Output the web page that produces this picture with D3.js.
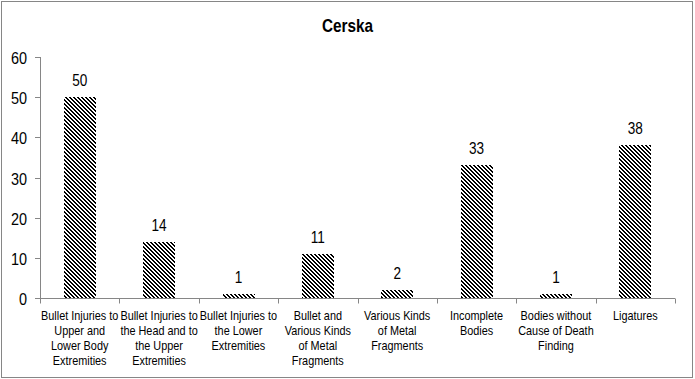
<!DOCTYPE html>
<html>
<head>
<meta charset="utf-8">
<script src="https://cdn.jsdelivr.net/npm/d3@7"></script>
<style>
  html, body { margin: 0; padding: 0; background: #fff; }
  svg { display: block; }
  text { font-family: "Liberation Sans", Arial, sans-serif; fill: #000; }
</style>
</head>
<body>
<svg id="chart" width="695" height="379"></svg>
<script>
const title = "Cerska";
const categories = [
  "Bullet Injuries to\nUpper and\nLower Body\nExtremities",
  "Bullet Injuries to\nthe Head and to\nthe Upper\nExtremities",
  "Bullet Injuries to\nthe Lower\nExtremities",
  "Bullet and\nVarious Kinds\nof Metal\nFragments",
  "Various Kinds\nof Metal\nFragments",
  "Incomplete\nBodies",
  "Bodies without\nCause of Death\nFinding",
  "Ligatures"
];
const values = [50, 14, 1, 11, 2, 33, 1, 38];
const yTicks = [0, 10, 20, 30, 40, 50, 60];

const W = 695, H = 379;
const m = { left: 40, right: 20, top: 57, bottom: 81 };
const svg = d3.select("#chart");
const SX = 0.85; // horizontal condensing of glyphs

function ctext(g, x, y, str, size, anchor, weight) {
  return g.append("text")
    .attr("transform", `translate(${x},${y}) scale(${SX},1)`)
    .attr("text-anchor", anchor)
    .style("font-size", size + "px")
    .style("font-weight", weight || "normal")
    .text(str);
}

// outer border
svg.append("rect").attr("x", 1.5).attr("y", 1.5).attr("width", 691).attr("height", 376)
  .attr("fill", "#fff").attr("stroke", "#868686").attr("stroke-width", 1);

// hatch pattern: crisp pixel diagonal "\" stripes, 2px black / 2px white
const defs = svg.append("defs");
const pat = defs.append("pattern").attr("id", "hatch")
  .attr("patternUnits", "userSpaceOnUse").attr("width", 4).attr("height", 4);
pat.append("rect").attr("width", 4).attr("height", 4).attr("fill", "#fff");
for (let r = 0; r < 4; r++) {
  for (let k = 0; k < 2; k++) {
    pat.append("rect").attr("x", (r + k) % 4).attr("y", r)
      .attr("width", 1).attr("height", 1).attr("fill", "#000")
      .attr("shape-rendering", "crispEdges");
  }
}

const x = d3.scaleBand().domain(d3.range(categories.length))
  .range([m.left, W - m.right]).paddingInner(0.6).paddingOuter(0.3);
const xEdge = d3.scaleLinear().domain([0, categories.length]).range([m.left, W - m.right]);
const y = d3.scaleLinear().domain([0, 60]).range([H - m.bottom, m.top]);

// title
ctext(svg, W / 2, 32, title, 18, "middle", "bold");

// y axis
const axisColor = "#868686";
const gy = svg.append("g");
gy.append("line").attr("x1", m.left + 0.5).attr("x2", m.left + 0.5)
  .attr("y1", y(60)).attr("y2", y(0)).attr("stroke", axisColor);
yTicks.forEach(t => {
  const yy = Math.round(y(t)) + 0.5;
  gy.append("line").attr("x1", m.left - 5).attr("x2", m.left + 0.5)
    .attr("y1", yy).attr("y2", yy).attr("stroke", axisColor);
  ctext(gy, 27, yy + 6, String(t), 17, "end");
});

// x axis
const gx = svg.append("g");
const y0 = Math.round(y(0)) + 0.5;
gx.append("line").attr("x1", m.left).attr("x2", W - m.right)
  .attr("y1", y0).attr("y2", y0).attr("stroke", axisColor);
d3.range(categories.length + 1).forEach(i => {
  const xx = Math.round(xEdge(i)) + 0.5;
  gx.append("line").attr("x1", xx).attr("x2", xx).attr("y1", y0).attr("y2", y0 + 5)
    .attr("stroke", axisColor);
});

// bars
svg.append("g").selectAll("rect").data(values).join("rect")
  .attr("x", (d, i) => Math.round(x(i)))
  .attr("y", d => Math.round(y(d)))
  .attr("width", Math.round(x.bandwidth()))
  .attr("height", d => Math.round(y(0)) - Math.round(y(d)))
  .attr("shape-rendering", "crispEdges")
  .attr("fill", "url(#hatch)");

// value labels
const gv = svg.append("g");
values.forEach((v, i) => {
  ctext(gv, x(i) + x.bandwidth() / 2, y(v) - 11, String(v), 16, "middle");
});

// category labels
const gc = svg.append("g");
categories.forEach((c, i) => {
  const cx = xEdge(i + 0.5);
  c.split("\n").forEach((line, j) => {
    ctext(gc, cx, 320 + j * 15, line, 12.8, "middle");
  });
});
</script>
</body>
</html>
